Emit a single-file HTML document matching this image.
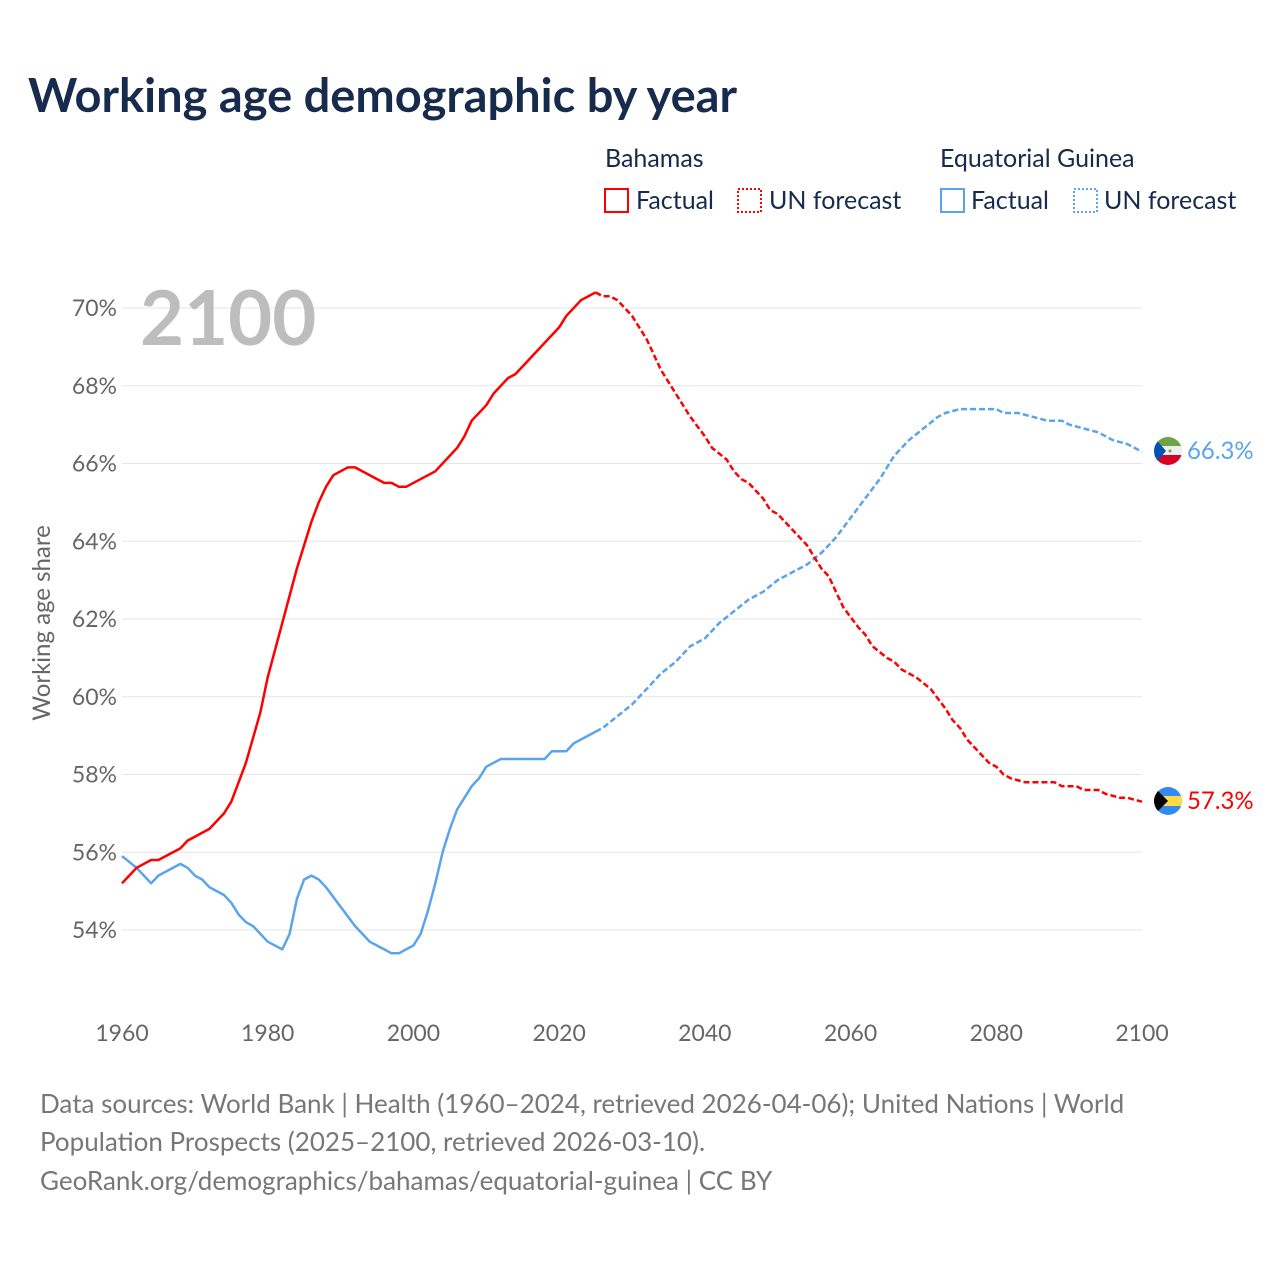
<!DOCTYPE html>
<html><head><meta charset="utf-8"><style>
body{margin:0;background:#fff;font-family:"Liberation Sans",sans-serif}
svg text{font-family:"Lato","Liberation Sans",sans-serif}
</style></head><body>
<svg width="1280" height="1280" viewBox="0 0 1280 1280" xmlns="http://www.w3.org/2000/svg">
<rect width="1280" height="1280" fill="#fff"/>
<text x="28" y="112" font-size="47" font-weight="bold" fill="#172b4d">Working age demographic by year</text>
<g font-size="25" fill="#172b4d">
<text x="605" y="167">Bahamas</text>
<rect x="605" y="189" width="23" height="23" fill="none" stroke="#ff0000" stroke-width="2"/>
<text x="636" y="209">Factual</text>
<rect x="738" y="189" width="23" height="23" fill="none" stroke="#ff0000" stroke-width="2" stroke-dasharray="2 2"/>
<text x="769" y="209">UN forecast</text>
<text x="940" y="167">Equatorial Guinea</text>
<rect x="941" y="189" width="23" height="23" fill="none" stroke="#5ba4ec" stroke-width="2"/>
<text x="971" y="209">Factual</text>
<rect x="1074" y="189" width="23" height="23" fill="none" stroke="#5ba4ec" stroke-width="2" stroke-dasharray="2 2"/>
<text x="1104" y="209">UN forecast</text>
</g>
<g id="grid"></g>
<text x="140" y="345" font-size="76" font-weight="bold" fill="#bdbdbd">2100</text>
<text transform="translate(50,623) rotate(-90)" text-anchor="middle" font-size="24" fill="#666">Working age share</text>
<g id="series"></g>
<g>
<clipPath id="c1"><circle cx="1168" cy="451" r="14"/></clipPath>
<g clip-path="url(#c1)"><rect x="1154" y="437" width="28" height="10" fill="#6da544"/><rect x="1154" y="446" width="28" height="10" fill="#eee"/><rect x="1154" y="455" width="28" height="10" fill="#d80027"/><polygon points="1154,437 1166,451 1154,465" fill="#0052b4"/><circle cx="1170" cy="451" r="1.5" fill="#6da544"/></g>
</g>
<g>
<clipPath id="c2"><circle cx="1168" cy="801" r="14"/></clipPath>
<g clip-path="url(#c2)"><rect x="1154" y="787" width="28" height="28" fill="#338af3"/><rect x="1154" y="796" width="28" height="10" fill="#ffda44"/><polygon points="1154,787 1168,801 1154,815" fill="#000"/></g>
</g>
<text x="1187" y="459" font-size="24" fill="#5ba4ec">66.3%</text>
<text x="1187" y="809" font-size="24" fill="#ff0000">57.3%</text>
<g font-size="26" fill="#777">
<text x="40" y="1113">Data sources: World Bank | Health (1960–2024, retrieved 2026-04-06); United Nations | World</text>
<text x="40" y="1151">Population Prospects (2025–2100, retrieved 2026-03-10).</text>
<text x="40" y="1190">GeoRank.org/demographics/bahamas/equatorial-guinea | CC BY</text>
</g>
</svg>
<script>
const yTicks=[54,56,58,60,62,64,66,68,70];
const xTicks=[1960,1980,2000,2020,2040,2060,2080,2100];
const bhsFactYears=[1960,1962,1964,1965,1968,1969,1972,1974,1975,1976,1977,1979,1980,1982,1984,1986,1987,1988,1989,1991,1992,1995,1996,1997,1998,1999,2003,2006,2007,2008,2010,2011,2013,2014,2020,2021,2023,2025];
const bhsFactVals=[55.2,55.6,55.8,55.8,56.1,56.3,56.6,57.0,57.3,57.8,58.3,59.6,60.5,61.9,63.3,64.5,65.0,65.4,65.7,65.9,65.9,65.6,65.5,65.5,65.4,65.4,65.8,66.4,66.7,67.1,67.5,67.8,68.2,68.3,69.5,69.8,70.2,70.4];
const bhsFcYears=[2025,2026,2027,2028,2030,2032,2034,2036,2038,2040,2041,2043,2044,2045,2046,2048,2049,2050,2052,2054,2055,2056,2057,2058,2059,2061,2062,2063,2065,2066,2067,2069,2071,2073,2074,2075,2076,2078,2079,2080,2081,2082,2084,2088,2089,2091,2092,2094,2095,2097,2098,2100];
const bhsFcVals=[70.4,70.3,70.3,70.2,69.8,69.2,68.4,67.8,67.2,66.7,66.4,66.1,65.8,65.6,65.5,65.1,64.8,64.7,64.3,63.9,63.6,63.3,63.1,62.7,62.3,61.8,61.6,61.3,61.0,60.9,60.7,60.5,60.2,59.7,59.4,59.2,58.9,58.5,58.3,58.2,58.0,57.9,57.8,57.8,57.7,57.7,57.6,57.6,57.5,57.4,57.4,57.3];
const gnqFactYears=[1960,1962,1963,1964,1965,1968,1969,1970,1971,1972,1974,1975,1976,1977,1978,1980,1982,1983,1984,1985,1986,1987,1988,1990,1992,1993,1994,1996,1997,1998,1999,2000,2001,2002,2003,2004,2005,2006,2007,2008,2009,2010,2011,2012,2018,2019,2021,2022,2025];
const gnqFactVals=[55.9,55.6,55.4,55.2,55.4,55.7,55.6,55.4,55.3,55.1,54.9,54.7,54.4,54.2,54.1,53.7,53.5,53.9,54.8,55.3,55.4,55.3,55.1,54.6,54.1,53.9,53.7,53.5,53.4,53.4,53.5,53.6,53.9,54.5,55.2,56.0,56.6,57.1,57.4,57.7,57.9,58.2,58.3,58.4,58.4,58.6,58.6,58.8,59.1];
const gnqFcYears=[2025,2026,2028,2030,2032,2034,2036,2038,2040,2042,2044,2046,2048,2050,2052,2054,2056,2058,2060,2062,2064,2066,2068,2070,2072,2073,2075,2080,2081,2083,2085,2087,2089,2090,2092,2094,2096,2098,2099,2100];
const gnqFcVals=[59.1,59.2,59.5,59.8,60.2,60.6,60.9,61.3,61.5,61.9,62.2,62.5,62.7,63.0,63.2,63.4,63.7,64.1,64.6,65.1,65.6,66.2,66.6,66.9,67.2,67.3,67.4,67.4,67.3,67.3,67.2,67.1,67.1,67.0,66.9,66.8,66.6,66.5,66.4,66.3];
const NS='http://www.w3.org/2000/svg';
const X0=122,X1=1142,Y70=308,Y54=930;
function xs(y){return X0+(y-1960)*(X1-X0)/140;}
function ys(v){return Y54-(v-54)*(Y54-Y70)/16;}
const grid=document.getElementById('grid');
yTicks.forEach(t=>{
 const l=document.createElementNS(NS,'line');
 l.setAttribute('x1',X0);l.setAttribute('x2',X1);l.setAttribute('y1',ys(t));l.setAttribute('y2',ys(t));
 l.setAttribute('stroke','#e6e6e6');l.setAttribute('stroke-width','1');
 
 
 grid.appendChild(l);
 const tx=document.createElementNS(NS,'text');
 tx.setAttribute('x',117);tx.setAttribute('y',ys(t)+8);tx.setAttribute('text-anchor','end');
 tx.setAttribute('font-size','23');tx.setAttribute('fill','#666');tx.textContent=t+'%';
 
 
 grid.appendChild(tx);
});
xTicks.forEach(t=>{
 const tx=document.createElementNS(NS,'text');
 tx.setAttribute('x',xs(t));tx.setAttribute('y',1041);tx.setAttribute('text-anchor','middle');
 tx.setAttribute('font-size','23');tx.setAttribute('fill','#666');tx.textContent=t;
 
 
 grid.appendChild(tx);
});
const sg=document.getElementById('series');
function line(years,vals,color,dash,name){
 const p=document.createElementNS(NS,'path');
 p.setAttribute('d',years.map((y,i)=>(i?'L':'M')+xs(y).toFixed(1)+','+ys(vals[i]).toFixed(1)).join(''));
 p.setAttribute('fill','none');p.setAttribute('stroke',color);p.setAttribute('stroke-width','2.5');
 p.setAttribute('stroke-linejoin','round');
 if(dash)p.setAttribute('stroke-dasharray','6 3');
 
 
 sg.appendChild(p);
}
line(gnqFactYears,gnqFactVals,'#5ba4ec',false,'equatorial-guinea-factual-line');
line(gnqFcYears,gnqFcVals,'#5ba4ec',true,'equatorial-guinea-forecast-line');
line(bhsFactYears,bhsFactVals,'#ff0000',false,'bahamas-factual-line');
line(bhsFcYears,bhsFcVals,'#ff0000',true,'bahamas-forecast-line');
</script>
</body></html>
